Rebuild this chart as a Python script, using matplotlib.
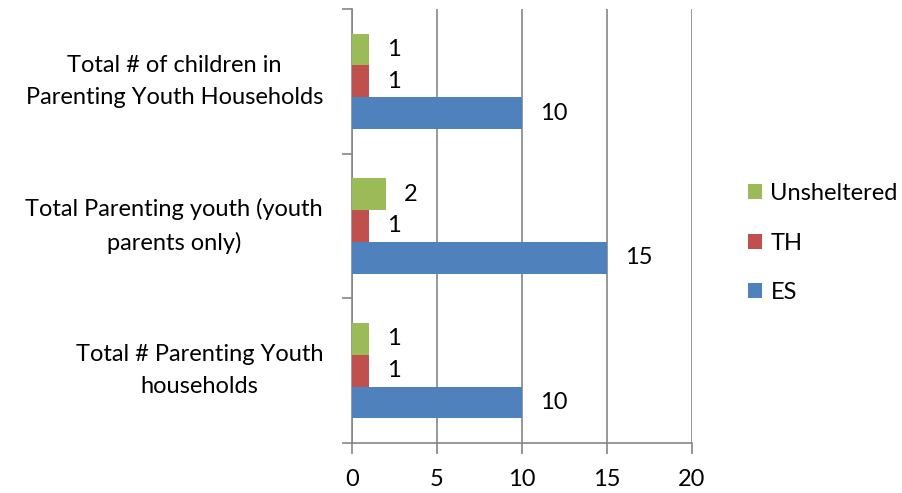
import matplotlib.pyplot as plt
import matplotlib.transforms as mtransforms
import numpy as np

# data (bottom to top as drawn)
categories = ["Total # Parenting Youth\nhouseholds",
              "Total Parenting youth (youth\nparents only)",
              "Total # of children in\nParenting Youth Households"]
es = [10, 15, 10]
th = [1, 1, 1]
unsheltered = [1, 2, 1]

plt.rcParams['font.family'] = ['Lato', 'DejaVu Sans']

fig = plt.figure(figsize=(9.02, 4.93), dpi=100)
ax = fig.add_axes([352/902, 50/493, 340/902, 434/493])

y = np.arange(len(categories))
h = 0.22
gray = "#868686"

b_es = ax.barh(y - h, es, height=h, color="#4F81BD", label="ES", zorder=3)
b_th = ax.barh(y, th, height=h, color="#C0504D", label="TH", zorder=3)
b_un = ax.barh(y + h, unsheltered, height=h, color="#9BBB59", label="Unsheltered", zorder=3)

for bars in [b_es, b_th, b_un]:
    for b in bars:
        w = b.get_width()
        ax.annotate(str(w), (w, b.get_y() + b.get_height()/2),
                    xytext=(18, 0), textcoords="offset pixels",
                    ha="left", va="center", fontsize=17)

ax.set_xlim(0, 20)
ax.set_ylim(-0.5, 2.5)
ax.set_xticks([0, 5, 10, 15, 20])
ax.xaxis.grid(True, color=gray, linewidth=1.2, zorder=0)

# category boundaries as ticks, category names as text beside the axis
ax.set_yticks([-0.5, 0.5, 1.5, 2.5])
ax.set_yticklabels([])
trans = ax.get_yaxis_transform() + mtransforms.ScaledTranslation(-29/100, 0, fig.dpi_scale_trans)
for yi, name in zip(y, categories):
    ax.text(0, yi, name, transform=trans, fontsize=17, ha="right", va="center",
            multialignment="center", linespacing=1.65)
ax.tick_params(axis="y", length=7, color=gray, width=1.2)
ax.tick_params(axis="x", length=8, color=gray, width=1.2, labelsize=17, pad=11)

for s in ["top", "right"]:
    ax.spines[s].set_visible(False)
for s in ["left", "bottom"]:
    ax.spines[s].set_color(gray)
    ax.spines[s].set_linewidth(1.2)

handles = [b_un, b_th, b_es]
fig.legend(handles, [hh.get_label() for hh in handles],
           loc="center left", bbox_to_anchor=(748/902, 1 - 243/493),
           frameon=False, fontsize=17, handlelength=0.6, handleheight=0.6,
           handletextpad=0.35, labelspacing=1.2, borderpad=0, borderaxespad=0)

fig.savefig("out.png", dpi=100)
